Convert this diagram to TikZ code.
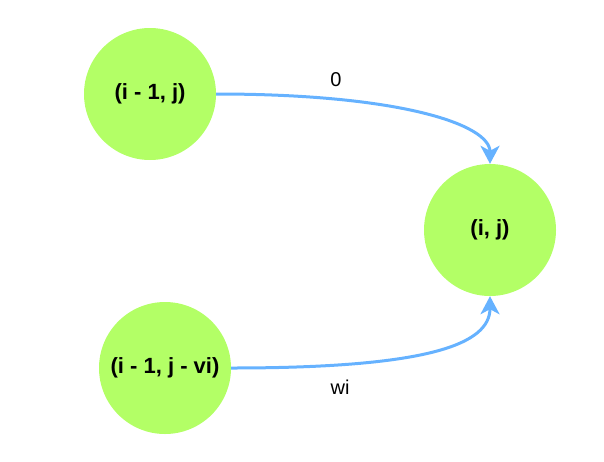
\documentclass[tikz,border=0pt]{standalone}
\usepackage{fontspec}
\setmainfont{Liberation Sans}
\usetikzlibrary{arrows.meta}
\definecolor{stategreen}{HTML}{B3FF66}
\definecolor{edgeblue}{HTML}{66B2FF}

\begin{document}
\begin{tikzpicture}[
  x=1pt,y=-1pt,
  state/.style={circle,fill=stategreen,minimum size=132pt,inner sep=0pt,
    font=\fontsize{22}{26}\selectfont\bfseries},
  weight/.style={font=\fontsize{20}{24}\selectfont},
  edge/.style={edgeblue,line width=3pt,-{Stealth[length=18pt,width=19pt,inset=5pt]}}
]
  \useasboundingbox (0,0) rectangle (604,461);

  \node[state] (prev) at (150,94) {(i - 1, j)};
  \node[state] (cur) at (490,230) {(i, j)};
  \node[state] (prevv) at (165,368) {(i - 1, j - vi)};

  \draw[edge] (prev.east) .. controls +(185,0) and +(0,-39) .. (cur.north);
  \draw[edge] (prevv.east) .. controls +(198,0) and +(0,48) .. (cur.south);

  \node[weight] (w0) at (336,80) {0};
  \node[weight] (w1) at (340,387) {wi};
\end{tikzpicture}
\end{document}
